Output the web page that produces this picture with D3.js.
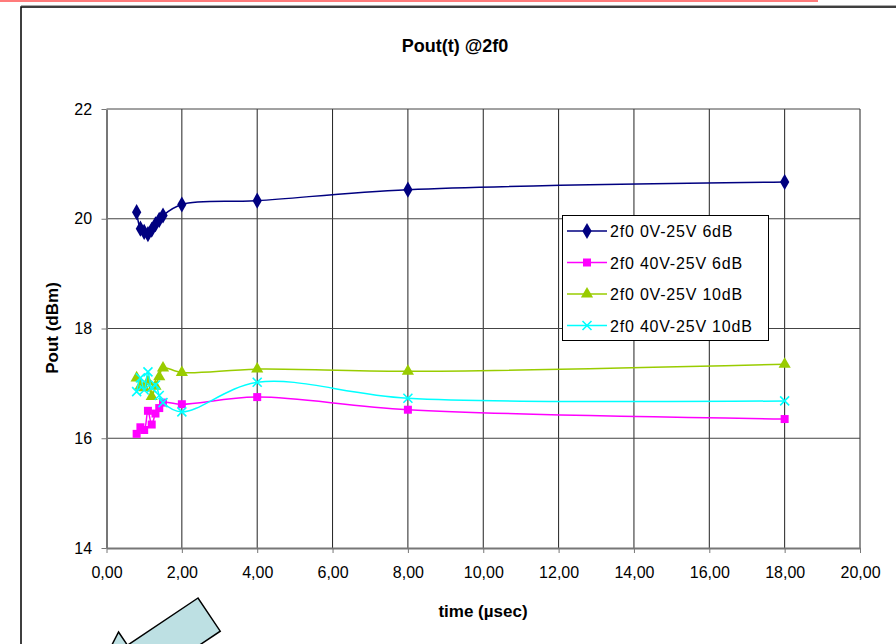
<!DOCTYPE html>
<html>
<head>
<meta charset="utf-8">
<title>Pout(t) @2f0</title>
<script src="https://d3js.org/d3.v7.min.js"></script>
<style>
  body { margin: 0; background: #fff; }
  text { font-family: "Liberation Sans", Arial, sans-serif; }
</style>
</head>
<body>
<svg width="896" height="644"></svg>
<script>
// data
var time = [0.8, 0.9, 1.0, 1.1, 1.2, 1.3, 1.4, 1.5, 2, 4, 8, 18];
var s0V6dB   = [20.12, 19.82, 19.76, 19.72, 19.80, 19.90, 19.98, 20.06, 20.26, 20.33, 20.53, 20.67];
var s40V6dB  = [16.08, 16.20, 16.15, 16.50, 16.25, 16.45, 16.55, 16.65, 16.62, 16.75, 16.52, 16.35];
var s0V10dB  = [17.10, 16.95, 16.92, 17.03, 16.76, 16.95, 17.12, 17.28, 17.20, 17.26, 17.22, 17.35];
var s40V10dB = [16.85, 17.10, 16.88, 17.21, 16.92, 16.97, 16.78, 16.65, 16.48, 17.02, 16.73, 16.68];
var seriesNames = ["2f0 0V-25V 6dB", "2f0 40V-25V 6dB", "2f0 0V-25V 10dB", "2f0 40V-25V 10dB"];
var xTicks = [0, 2, 4, 6, 8, 10, 12, 14, 16, 18, 20];
var yTicks = [14, 16, 18, 20, 22];

var series = [
  {name: seriesNames[0], values: s0V6dB,   color: "#000080", marker: "diamond"},
  {name: seriesNames[1], values: s40V6dB,  color: "#ff00ff", marker: "square"},
  {name: seriesNames[2], values: s0V10dB,  color: "#99cc00", marker: "triangle"},
  {name: seriesNames[3], values: s40V10dB, color: "#00ffff", marker: "cross"}
];

var svg = d3.select("svg");

// page decorations
svg.append("line").attr("x1", 0).attr("x2", 818).attr("y1", 1).attr("y2", 1)
  .attr("stroke", "#ff7b7b").attr("stroke-width", 2);
svg.append("path").attr("d", "M21,644 V7 H896")
  .attr("fill", "none").attr("stroke", "#000").attr("stroke-width", 1.5);
svg.append("line").attr("x1", 21).attr("x2", 896).attr("y1", 5.5).attr("y2", 5.5)
  .attr("stroke", "#aaa").attr("stroke-width", 1);

var x = d3.scaleLinear().domain([0, 20]).range([106.5, 860]);
var y = d3.scaleLinear().domain([14, 22]).range([548, 109]);

// grid
svg.append("g").selectAll("line").data(xTicks.slice(1)).enter().append("line")
  .attr("x1", function(d) { return x(d); }).attr("x2", function(d) { return x(d); })
  .attr("y1", y(22)).attr("y2", y(14))
  .attr("stroke", "#222").attr("stroke-width", 1);
svg.append("g").selectAll("line").data(yTicks.slice(1)).enter().append("line")
  .attr("x1", x(0)).attr("x2", x(20))
  .attr("y1", function(d) { return y(d); }).attr("y2", function(d) { return y(d); })
  .attr("stroke", "#444").attr("stroke-width", 1);

// axes
var xAxis = svg.append("g").attr("transform", "translate(0," + y(14) + ")")
  .call(d3.axisBottom(x).tickValues(xTicks).tickSizeOuter(0).tickSizeInner(5)
    .tickFormat(function(d) { return d3.format(".2f")(d).replace(".", ","); }));
var yAxis = svg.append("g").attr("transform", "translate(" + x(0) + ",0)")
  .call(d3.axisLeft(y).tickValues(yTicks).tickSizeOuter(0).tickSizeInner(5));
[xAxis, yAxis].forEach(function(a) {
  a.select(".domain").attr("stroke", "#777").attr("stroke-width", 2);
  a.selectAll(".tick line").attr("stroke", "#777");
  a.selectAll("text").attr("font-size", 16).attr("fill", "#000")
    .attr("font-family", "Liberation Sans, Arial, sans-serif");
});
xAxis.selectAll("text").attr("dy", "1.4em");
yAxis.selectAll("text").attr("dx", "-0.4em");

// titles
svg.append("text").attr("x", 455).attr("y", 52).attr("text-anchor", "middle")
  .attr("font-weight", "bold").attr("font-size", 18).text("Pout(t) @2f0");
svg.append("text").attr("x", 483).attr("y", 617).attr("text-anchor", "middle")
  .attr("font-weight", "bold").attr("font-size", 17).text("time (µsec)");
svg.append("text").attr("transform", "translate(58,328) rotate(-90)").attr("text-anchor", "middle")
  .attr("font-weight", "bold").attr("font-size", 17).text("Pout (dBm)");

// markers
function drawMarker(g, type, color, cx, cy) {
  if (type === "cross") {
    g.append("path").attr("d", "M" + (cx - 4.5) + "," + (cy - 4.5) + "L" + (cx + 4.5) + "," + (cy + 4.5) +
        "M" + (cx - 4.5) + "," + (cy + 4.5) + "L" + (cx + 4.5) + "," + (cy - 4.5))
      .attr("stroke", color).attr("stroke-width", 1.6).attr("fill", "none");
    return;
  }
  var sym = {diamond: d3.symbolDiamond, square: d3.symbolSquare, triangle: d3.symbolTriangle}[type];
  var size = {diamond: 75, square: 64, triangle: 64}[type];
  g.append("path").attr("d", d3.symbol().type(sym).size(size)())
    .attr("transform", "translate(" + cx + "," + cy + ")")
    .attr("fill", color);
}

var line = d3.line()
  .x(function(d) { return x(d[0]); })
  .y(function(d) { return y(d[1]); })
  .curve(d3.curveCatmullRom.alpha(0.5));

series.forEach(function(s) {
  var pts = time.map(function(t, i) { return [t, s.values[i]]; });
  var g = svg.append("g");
  g.append("path").datum(pts).attr("d", line)
    .attr("fill", "none").attr("stroke", s.color).attr("stroke-width", 1.5);
  pts.forEach(function(p) { drawMarker(g, s.marker, s.color, x(p[0]), y(p[1])); });
});

// legend
var lg = svg.append("g");
lg.append("rect").attr("x", 562.5).attr("y", 215.5).attr("width", 206).attr("height", 125)
  .attr("fill", "#fff").attr("stroke", "#000").attr("stroke-width", 1);
series.forEach(function(s, i) {
  var cy = 231 + i * 31.5;
  lg.append("line").attr("x1", 567).attr("x2", 607).attr("y1", cy).attr("y2", cy)
    .attr("stroke", s.color).attr("stroke-width", 1.5);
  drawMarker(lg, s.marker, s.color, 587, cy);
  lg.append("text").attr("x", 610).attr("y", cy + 6).attr("font-size", 16)
    .attr("letter-spacing", 0.8).text(s.name);
});

// arrow shape at the bottom left
var ax = 198, ay = 598, dx = -0.83, dy = 0.556, nx = 0.556, ny = 0.83, w = 40;
var arrow = [
  [ax, ay],
  [ax + 85 * dx, ay + 85 * dy],
  [ax + 85 * dx - 16 * nx, ay + 85 * dy - 16 * ny],
  [ax + 150 * dx + (w / 2) * nx, ay + 150 * dy + (w / 2) * ny],
  [ax + 85 * dx + (w + 16) * nx, ay + 85 * dy + (w + 16) * ny],
  [ax + 85 * dx + w * nx, ay + 85 * dy + w * ny],
  [ax + w * nx, ay + w * ny]
];
svg.append("path").attr("d", d3.line()(arrow) + "Z")
  .attr("fill", "#bde0e3").attr("stroke", "#000").attr("stroke-width", 1.5);
</script>
</body>
</html>
